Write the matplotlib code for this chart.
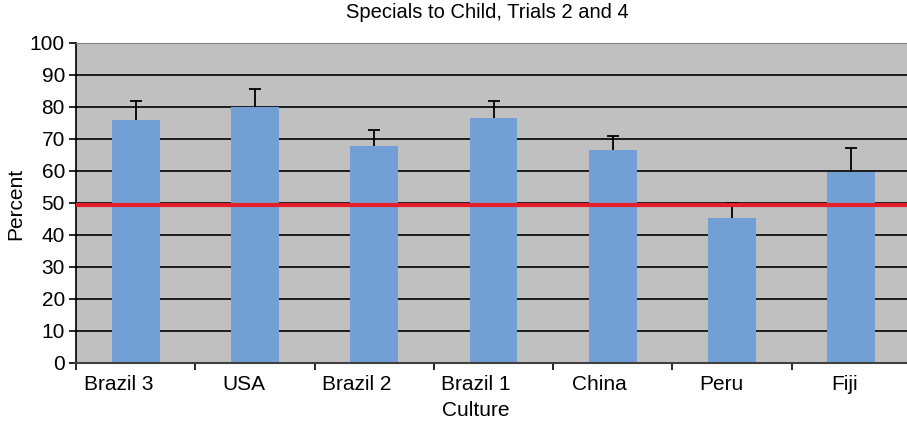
import matplotlib
matplotlib.use("Agg")
import matplotlib.pyplot as plt

#Data
cultures=["Brazil 3","USA","Brazil 2","Brazil 1","China","Peru","Fiji"]
percent=[75.9,80.0,67.8,76.6,66.6,45.3,59.8]
err_up=[5.9,5.5,5.1,5.3,4.4,4.8,7.3]
chance=49.3

plt.rcParams['font.family']=['Liberation Sans','DejaVu Sans']

fig=plt.figure(figsize=(9.07,4.24),dpi=100)
#axes runs a little past the right edge like the original
ax=fig.add_axes([76/907,1-363/424,(911-76)/907,(363-43)/424])
ax.set_facecolor("#c0c0c0")

x=list(range(len(cultures)))
tops=[p+e for p,e in zip(percent,err_up)]
ax.bar(x,percent,width=0.40,color="#729fd4",zorder=2)
#upper error bars only
ax.vlines(x,percent,tops,color="black",linewidth=1.3,zorder=3)
ax.plot(x,tops,linestyle="none",marker="_",markersize=9,markeredgewidth=1.3,color="black",zorder=3)
ax.axhline(chance,color="#e3202a",linewidth=3,zorder=4)

ax.set_xlim(-0.5,len(cultures)-0.5)
ax.set_ylim(0,100)
ax.set_yticks(range(0,101,10))
ax.yaxis.grid(True,color="black",linewidth=1.2,zorder=1)
ax.set_axisbelow(True)
ax.set_xticks(x)
ax.set_xticklabels([])
ax.set_xticks([i-0.5 for i in range(len(cultures)+1)],minor=True)
ax.tick_params(axis="x",which="major",length=0)
ax.tick_params(axis="x",which="minor",length=5,width=1.2,direction="out")
ax.tick_params(axis="y",labelsize=15,length=5,width=1.2,pad=3)
for s in ["top","right"]:
  ax.spines[s].set_color("#808080")
ax.spines["left"].set_linewidth(1.2)
ax.spines["bottom"].set_linewidth(1.5)
ax.spines["bottom"].set_color("#404040")

#category labels, the original sits them a bit left of the bar centre
trans=ax.get_xaxis_transform()
labels=[ax.text(i,-22/320,c,fontsize=15,ha="center",va="center",transform=trans) for i,c in zip(x,cultures)]
xlab=fig.text(493/907,1-410/424,"Culture",fontsize=15,ha="center",va="center")
ax.set_ylabel("Percent",fontsize=15)
ax.yaxis.set_label_coords(16/907,1-204/424,transform=fig.transFigure)
ax.yaxis.label.set_va("center")
fig.text(487/907,1-13/424,"Specials to Child, Trials 2 and 4",fontsize=14.5,ha="center",va="center")

fig.canvas.draw()
r=fig.canvas.get_renderer()
px_per_cat=ax.bbox.width/len(cultures)
for t,i in zip(labels,x):
  w=t.get_window_extent(r).width
  t.set_x(i-w/4/px_per_cat)
w=xlab.get_window_extent(r).width
xlab.set_x((493-w/4)/907)

fig.savefig("out.png",dpi=100)
